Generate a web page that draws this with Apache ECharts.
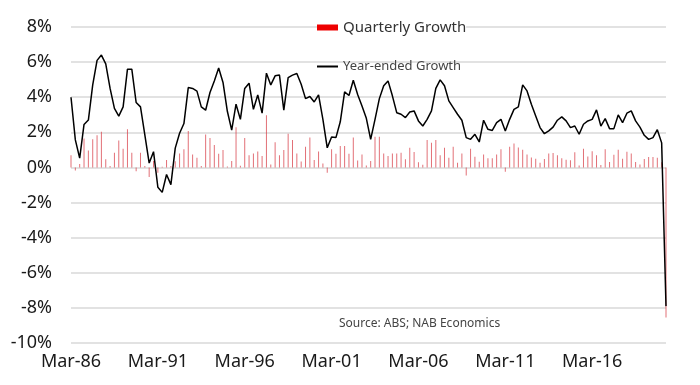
<!DOCTYPE html>
<html><head><meta charset="utf-8">
<script src="https://cdn.jsdelivr.net/npm/echarts@6/dist/echarts.min.js"></script>
<style>html,body{margin:0;padding:0;background:#fff}#c{width:700px;height:385px}</style>
</head><body><div id="c"></div>
<script>
// Quarter categories Mar-86 .. Jun-20
const quarterMonths = ['Mar','Jun','Sep','Dec'];
const categories = [];
for (let y = 1986; y <= 2020; y++) {
  for (const m of quarterMonths) {
    if (y === 2020 && m === 'Sep') break;
    categories.push(m + '-' + String(y % 100).padStart(2, '0'));
  }
}
const yTicks = [-10, -8, -6, -4, -2, 0, 2, 4, 6, 8];
const quarterlyGrowth = [
 0.69,-0.17,0.2,1.65,0.97,1.6,1.83,2.04,0.46,0.08,
 0.84,1.54,1.07,2.17,0.84,-0.22,0.84,0.08,-0.55,0.36,
 -0.3,0.04,0.42,0.08,0.35,0.8,1.03,2.08,0.74,0.55,
 0.08,1.87,1.68,1.28,0.78,1.0,0.06,0.36,2.29,0.1,
 1.68,0.69,0.8,0.91,0.65,2.97,0.17,1.43,0.69,1.0,
 1.92,1.56,0.8,0.34,1.18,1.71,0.42,0.91,0.23,-0.3,
 1.03,0.78,1.22,1.22,0.78,1.7,0.4,0.74,0.11,0.36,
 1.75,1.75,0.8,0.65,0.8,0.8,0.84,0.46,1.12,0.88,
 0.3,0.15,1.56,1.41,1.56,0.69,1.12,0.55,1.18,0.27,
 0.8,-0.46,1.07,0.61,0.32,0.74,0.53,0.53,0.74,1.03,
 -0.25,1.18,1.37,1.14,1.01,0.74,0.57,0.5,0.27,0.48,
 0.79,0.82,0.7,0.53,0.44,0.41,0.86,0.11,1.07,0.63,
 0.92,0.7,0.14,1.03,0.31,0.72,1.01,0.49,0.9,0.79,
 0.31,0.17,0.48,0.6,0.6,0.55,0.3,-8.55
];
const yearEndedGrowth = [
 4.0,1.57,0.53,2.45,2.7,4.7,6.1,6.4,5.9,4.5,
 3.36,2.92,3.45,5.6,5.6,3.7,3.45,1.85,0.25,0.9,
 -1.13,-1.42,-0.4,-0.98,1.1,1.95,2.5,4.55,4.5,4.35,
 3.45,3.26,4.27,4.93,5.66,4.84,3.2,2.13,3.6,2.74,
 4.5,4.8,3.31,4.13,3.09,5.37,4.7,5.22,5.26,3.26,
 5.12,5.26,5.35,4.74,3.92,4.04,3.73,4.13,2.74,1.12,
 1.73,1.7,2.6,4.3,4.1,4.97,4.15,3.5,2.8,1.6,
 2.74,3.92,4.65,4.93,4.08,3.12,3.03,2.84,3.16,3.22,
 2.65,2.36,2.74,3.22,4.5,4.99,4.65,3.79,3.41,3.03,
 2.69,1.7,1.6,1.89,1.45,2.69,2.17,2.11,2.55,2.74,
 2.08,2.74,3.31,3.45,4.7,4.36,3.6,2.93,2.27,1.92,
 2.08,2.3,2.69,2.88,2.65,2.27,2.36,1.89,2.46,2.65,
 2.74,3.28,2.36,2.78,2.21,2.21,2.99,2.55,3.09,3.22,
 2.65,2.3,1.83,1.6,1.7,2.15,1.4,-7.9
];
const seriesNames = ['Quarterly Growth', 'Year-ended Growth'];
const sourceText = 'Source: ABS; NAB Economics';

const chart = echarts.init(document.getElementById('c'), null, {renderer: 'canvas'});
const font = "'Noto Sans', 'Open Sans', sans-serif";
chart.setOption({
  animation: false,
  backgroundColor: '#fff',
  grid: {left: 71, right: 34, top: 27, bottom: 42},
  legend: [
    {data: [seriesNames[0]], left: 317, top: 20, padding: 0, backgroundColor: '#fff',
     itemWidth: 21, itemHeight: 6, icon: 'rect', itemStyle: {color: '#ee0000', opacity: 1},
     textStyle: {fontFamily: font, fontSize: 15, color: '#333'}},
    {data: [seriesNames[1]], left: 317, top: 60, padding: 0,
     itemWidth: 21, itemHeight: 2, icon: 'rect',
     textStyle: {fontFamily: font, fontSize: 13, color: '#444'}}
  ],
  graphic: [{type: 'text', left: 339, top: 318,
    style: {text: sourceText, fontFamily: font, fontSize: 12, fill: '#444'}}],
  xAxis: {
    type: 'category', data: categories, boundaryGap: false,
    axisLine: {show: false, onZero: false}, axisTick: {show: false},
    splitLine: {show: false},
    axisLabel: {interval: 19, fontFamily: font, fontSize: 18, color: '#1a1a1a', margin: 10}
  },
  yAxis: {
    type: 'value', min: yTicks[0], max: yTicks[yTicks.length - 1], interval: 2,
    axisLine: {show: false}, axisTick: {show: false},
    splitLine: {lineStyle: {color: '#d9d9d9', width: 1.5}},
    axisLabel: {formatter: v => v + '%', fontFamily: font, fontSize: 18, color: '#1a1a1a', margin: 19}
  },
  series: [
    {name: seriesNames[0], type: 'bar', data: quarterlyGrowth, barWidth: 1,
     itemStyle: {color: '#d8404a', opacity: 0.75}},
    {name: seriesNames[1], type: 'line', data: yearEndedGrowth, showSymbol: false,
     symbol: 'none', lineStyle: {color: '#000', width: 1.5}, itemStyle: {color: '#000'}}
  ]
});
</script></body></html>
